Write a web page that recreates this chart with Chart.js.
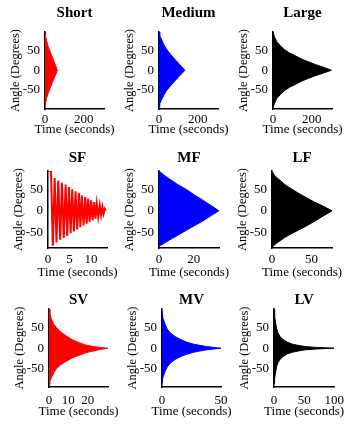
<!DOCTYPE html>
<html>
<head>
<meta charset="utf-8">
<script src="https://cdn.jsdelivr.net/npm/chart.js@4.4.1/dist/chart.umd.min.js"></script>
<style>
  body { margin: 0; background: #fff; width: 362px; height: 425px; position: relative; overflow: hidden; }
  canvas { position: absolute; }
</style>
</head>
<body>
<script>
// envelope of the swing (time in s, angle in degrees)
var shortTime  = [0, 3, 8, 15, 25, 38, 50, 64];
var shortUpper = [97, 86, 75, 63, 49, 33, 18, 0];
var shortLower = [-92, -82, -71, -60, -47, -31, -17, 0];

var mediumTime  = [0, 4, 12, 25, 38, 60, 82, 108, 134];
var mediumUpper = [97, 88, 79, 65, 54, 40, 28, 14, 0];
var mediumLower = [-94, -85, -76, -63, -52, -39, -27, -13, 0];

var largeTime  = [0, 8, 20, 38, 60, 85, 114, 150, 180, 217, 260, 302];
var largeUpper = [97, 84, 72, 62, 52, 44, 37, 28, 22, 15, 8, 0];
var largeLower = [-95, -83, -71, -61, -51, -43, -36, -27, -21, -14, -7, 0];

// SF: single swings are visible, peaks and troughs
var sfTime  = [0, 0.7, 1.12, 1.55, 1.97, 2.39, 2.82, 3.24, 3.66, 4.09, 4.47, 4.86, 5.25, 5.63, 6.02, 6.40, 6.78, 7.17, 7.52, 7.86, 8.25, 8.63, 8.98, 9.32, 9.67, 10.02, 10.37, 10.71, 11.02, 11.32, 11.67, 12.02, 12.33, 12.63, 12.90, 13.17, 13.4];
var sfAngle = [92, 92, -81, 76, -73, 70, -67, 65, -63, 61, -58, 55, -52, 50, -48, 45, -43, 41, -38, 36, -34, 32, -30, 28.5, -26, 24, -22, 20, -18, 16, -14, 12.4, -10.5, 8.5, -6.5, 4.6, 0];

var mfTime  = [0, 3, 6.2, 11, 15.8, 20.6, 25.4, 30, 34.4];
var mfUpper = [92, 82, 73, 60, 49, 36, 24, 12, 0];
var mfLower = [-82, -75, -67, -56, -45, -34, -23, -11, 0];

var lfTime  = [0, 4, 9.8, 16, 22.5, 33, 43.7, 54, 64.9, 76];
var lfUpper = [91, 80, 71, 61, 53, 41, 30, 20, 10.7, 0];
var lfLower = [-85, -77, -70, -62, -55, -45, -35, -24, -12, 0];

var svTime  = [0, 0.5, 1.2, 2.4, 3.8, 6, 9, 12, 15.9, 19, 22.8, 26.5, 30.5];
var svUpper = [98, 86, 73, 60, 51, 40, 30, 21, 13, 8, 4, 2, 0];
var svLower = [-90, -82, -73, -61, -51, -41, -32, -24, -17, -11, -7, -3, 0];

var mvTime  = [0, 0.85, 2.8, 4.5, 7, 11, 15.5, 21, 26.8, 32, 38, 44, 50];
var mvUpper = [93, 74, 58, 47, 38, 29, 22, 15, 10, 7, 4, 2, 0];
var mvLower = [-88, -72, -56, -46, -37, -28, -21, -15, -10, -7, -4, -2, 0];

var lvTime  = [0, 1, 2.7, 4.5, 6.5, 10, 14.5, 22, 30.6, 40, 52, 70, 85, 100];
var lvUpper = [97, 80, 62, 48, 38, 29, 22, 15, 10, 7, 4, 2, 1, 0];
var lvLower = [-88, -75, -58, -45, -36, -28, -21, -14, -10, -7, -4, -2, -1, 0];

var titles = ['Short', 'Medium', 'Large', 'SF', 'MF', 'LF', 'SV', 'MV', 'LV'];
var xLabel = 'Time (seconds)';
var yLabel = 'Angle (Degrees)';
var yTicks = [-50, 0, 50];
var xTicks = [[0, 200], [0, 200], [0, 200], [0, 5, 10], [0, 20], [0, 50], [0, 10, 20], [0, 50], [0, 50, 100]];
var xMax = [305, 305, 305, 13.7, 34.5, 76, 30.5, 50, 100];

var panels = [
  { time: shortTime, upper: shortUpper, lower: shortLower, color: '#ff0000' },
  { time: mediumTime, upper: mediumUpper, lower: mediumLower, color: '#0000ff' },
  { time: largeTime, upper: largeUpper, lower: largeLower, color: '#000000' },
  { time: sfTime, line: sfAngle, color: '#ff0000' },
  { time: mfTime, upper: mfUpper, lower: mfLower, color: '#0000ff' },
  { time: lfTime, upper: lfUpper, lower: lfLower, color: '#000000' },
  { time: svTime, upper: svUpper, lower: svLower, color: '#ff0000' },
  { time: mvTime, upper: mvUpper, lower: mvLower, color: '#0000ff' },
  { time: lvTime, upper: lvUpper, lower: lvLower, color: '#000000' }
];

// layout of the 3x3 grid
var rows = [
  { top: 0,   height: 140, titlePad: { top: 4, bottom: 10 }, tickPad: 3, xTitleY: 21, xScaleH: 31, yMin: -98, yMax: 97 },
  { top: 140, height: 140, titlePad: { top: 9, bottom: 4 },  tickPad: 4, xTitleY: 25, xScaleH: 32, yMin: -86, yMax: 92 },
  { top: 283, height: 142, titlePad: { top: 8, bottom: 0 },  tickPad: 6, xTitleY: 25, xScaleH: 38, yMin: -96, yMax: 97 }
];
var areaLeft  = [[45, 159, 273], [48, 159, 272], [49, 162, 274]];
var areaRight = [[104, 218, 332], [107, 219, 332], [108, 221, 336]];
var yScaleW = 45, padRight = 14;

var serif = 'Liberation Serif, Times New Roman, serif';

function pts(t, v) {
  return t.map(function (x, i) { return { x: x, y: v[i] }; });
}

// axis titles drawn by hand so they are not squeezed to the small plot width
var axisTitles = {
  id: 'axisTitles',
  afterDraw: function (chart, args, opts) {
    var a = chart.chartArea, ctx = chart.ctx;
    ctx.save();
    ctx.fillStyle = '#000';
    ctx.textAlign = 'center';
    ctx.textBaseline = 'middle';
    ctx.font = '13px ' + serif;
    ctx.fillText(xLabel, (a.left + a.right) / 2, a.bottom + opts.xOffset);
    ctx.translate(a.left - 29.5, (a.top + a.bottom) / 2);
    ctx.rotate(-Math.PI / 2);
    ctx.font = '12.5px ' + serif;
    ctx.fillText(yLabel, 0, 0);
    ctx.restore();
  }
};

panels.forEach(function (p, k) {
  var r = Math.floor(k / 3), c = k % 3, row = rows[r];
  var left = areaLeft[r][c] - yScaleW;
  var width = areaRight[r][c] + padRight - left;

  var cv = document.createElement('canvas');
  cv.width = width;
  cv.height = row.height;
  cv.style.left = left + 'px';
  cv.style.top = row.top + 'px';
  document.body.appendChild(cv);

  var datasets;
  if (p.line) {
    datasets = [{ data: pts(p.time, p.line), borderColor: p.color, borderWidth: 2, pointRadius: 0, fill: false, tension: 0 }];
  } else {
    // band between upper and lower envelope
    datasets = [
      { data: pts(p.time, p.upper), borderColor: p.color, borderWidth: 1, pointRadius: 0, fill: false, tension: 0 },
      { data: pts(p.time, p.lower), borderColor: p.color, backgroundColor: p.color, borderWidth: 1, pointRadius: 0, fill: '-1', tension: 0 }
    ];
  }

  new Chart(cv.getContext('2d'), {
    type: 'line',
    data: { datasets: datasets },
    plugins: [axisTitles],
    options: {
      responsive: false,
      animation: false,
      layout: { padding: { left: 0, top: 0, bottom: 0, right: padRight } },
      plugins: {
        legend: { display: false },
        tooltip: { enabled: false },
        axisTitles: { xOffset: row.xTitleY },
        title: {
          display: true,
          text: titles[k],
          fullSize: false,
          color: '#000',
          font: { family: serif, size: 15, weight: 'bold' },
          padding: row.titlePad
        }
      },
      scales: {
        x: {
          type: 'linear',
          min: 0,
          max: xMax[k],
          grid: { display: false, drawTicks: false },
          border: { display: true, color: '#000', width: 1.5 },
          afterBuildTicks: function (s) { s.ticks = xTicks[k].map(function (v) { return { value: v }; }); },
          afterFit: function (s) { s.height = row.xScaleH; },
          ticks: { color: '#000', padding: row.tickPad, maxRotation: 0, font: { family: serif, size: 13 } }
        },
        y: {
          min: row.yMin,
          max: row.yMax,
          grid: { display: false, drawTicks: false },
          border: { display: true, color: '#000', width: 1.5 },
          afterBuildTicks: function (s) { s.ticks = yTicks.map(function (v) { return { value: v }; }); },
          afterFit: function (s) { s.width = yScaleW; },
          ticks: { color: '#000', padding: 5, font: { family: serif, size: 13 } }
        }
      }
    }
  });
});
</script>
</body>
</html>
